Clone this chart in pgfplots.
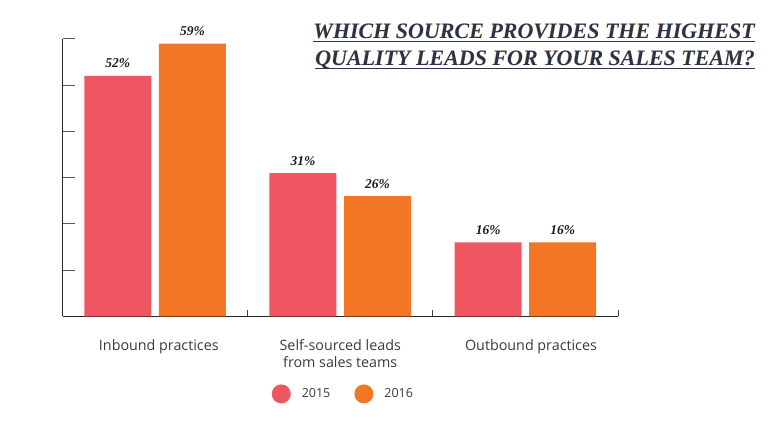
\documentclass[border=0pt]{standalone}
\usepackage{pgfplots}
\pgfplotsset{compat=1.18}
\usepackage{fontspec}
\setmainfont{Liberation Serif}
\newfontfamily\lab{Open Sans}
\definecolor{c15}{RGB}{238,86,98}
\definecolor{c16}{RGB}{242,118,35}
\definecolor{ttl}{RGB}{40,52,72}
\definecolor{txt}{RGB}{55,58,64}
\begin{document}
\begin{tikzpicture}
\useasboundingbox (0,0) rectangle (784pt,428pt);
\begin{axis}[
  at={(62.5pt,111.5pt)}, anchor=south west,
  scale only axis, width=555.5pt, height=277.5pt,
  xmin=-0.5, xmax=2.5, ymin=0, ymax=60,
  clip=false,
  axis x line*=bottom, axis y line*=left,
  axis line style={black!85, line width=1pt},
  ytick={0,10,...,60}, yticklabels={,,,,,,},
  xtick={0.5,1.5,2.5}, xticklabels={,,},
  tick align=inside,
  xtick style={/pgfplots/major tick length=6pt, black!75, line width=0.9pt},
  ytick style={/pgfplots/major tick length=12pt, black!65, line width=1pt},
  extra x ticks={0.02,1,2.03},
  extra x tick labels={Inbound practices, {Self-sourced leads\\from sales teams}, Outbound practices},
  extra x tick style={tick style={draw=none}, xticklabel style={anchor=north, inner sep=0pt, yshift=-23pt, align=center, text=txt, font=\lab\fontsize{14.3}{16.5}\selectfont}},
  legend style={at={(0.371,-0.279)}, anchor=west, draw=none, fill=none, legend columns=2,
     font=\lab\fontsize{12.5}{14}\selectfont, text=txt,
     /tikz/every odd column/.append style={column sep=9pt},
     /tikz/every even column/.append style={column sep=22pt}},
  nodes near coords={\pgfmathprintnumber[assume math mode=true]{\pgfplotspointmeta}\%},
  nodes near coords style={font=\fontsize{13.5}{14}\selectfont\bfseries\itshape, anchor=base, inner sep=0pt, yshift=8pt, text=black!90},
]
\addplot[ybar, fill=c15, draw=none, bar width=0.362, bar shift=0,
  legend image code/.code={\fill[c15] (0pt,0pt) circle (9.5pt);}]
  coordinates {(-0.2014,52) (0.7986,31) (1.7986,16)};
\addlegendentry{2015}
\addplot[ybar, fill=c16, draw=none, bar width=0.362, bar shift=0,
  legend image code/.code={\fill[c16] (0pt,0pt) circle (9.5pt);}]
  coordinates {(0.2014,59) (1.2014,26) (2.2014,16)};
\addlegendentry{2016}
\end{axis}
\tikzset{ttlfont/.style={anchor=base east, inner sep=0pt, font=\fontsize{22}{24}\selectfont\bfseries\itshape}}
\node[ttlfont, text=c16, opacity=0.35] at (754.4pt,389pt) {WHICH SOURCE PROVIDES THE HIGHEST};
\node[ttlfont, text=c16, opacity=0.35] at (754.4pt,362pt) {QUALITY LEADS FOR YOUR SALES TEAM?};
\node[ttlfont, text=ttl] (t1) at (755pt,389.5pt) {WHICH SOURCE PROVIDES THE HIGHEST};
\draw[ttl, line width=1.1pt] ([yshift=-3pt]t1.base west) -- ([yshift=-3pt]t1.base east);
\node[ttlfont, text=ttl] (t2) at (755pt,362.5pt) {QUALITY LEADS FOR YOUR SALES TEAM?};
\draw[ttl, line width=1.1pt] ([yshift=-3pt]t2.base west) -- ([yshift=-3pt]t2.base east);
\end{tikzpicture}
\end{document}
